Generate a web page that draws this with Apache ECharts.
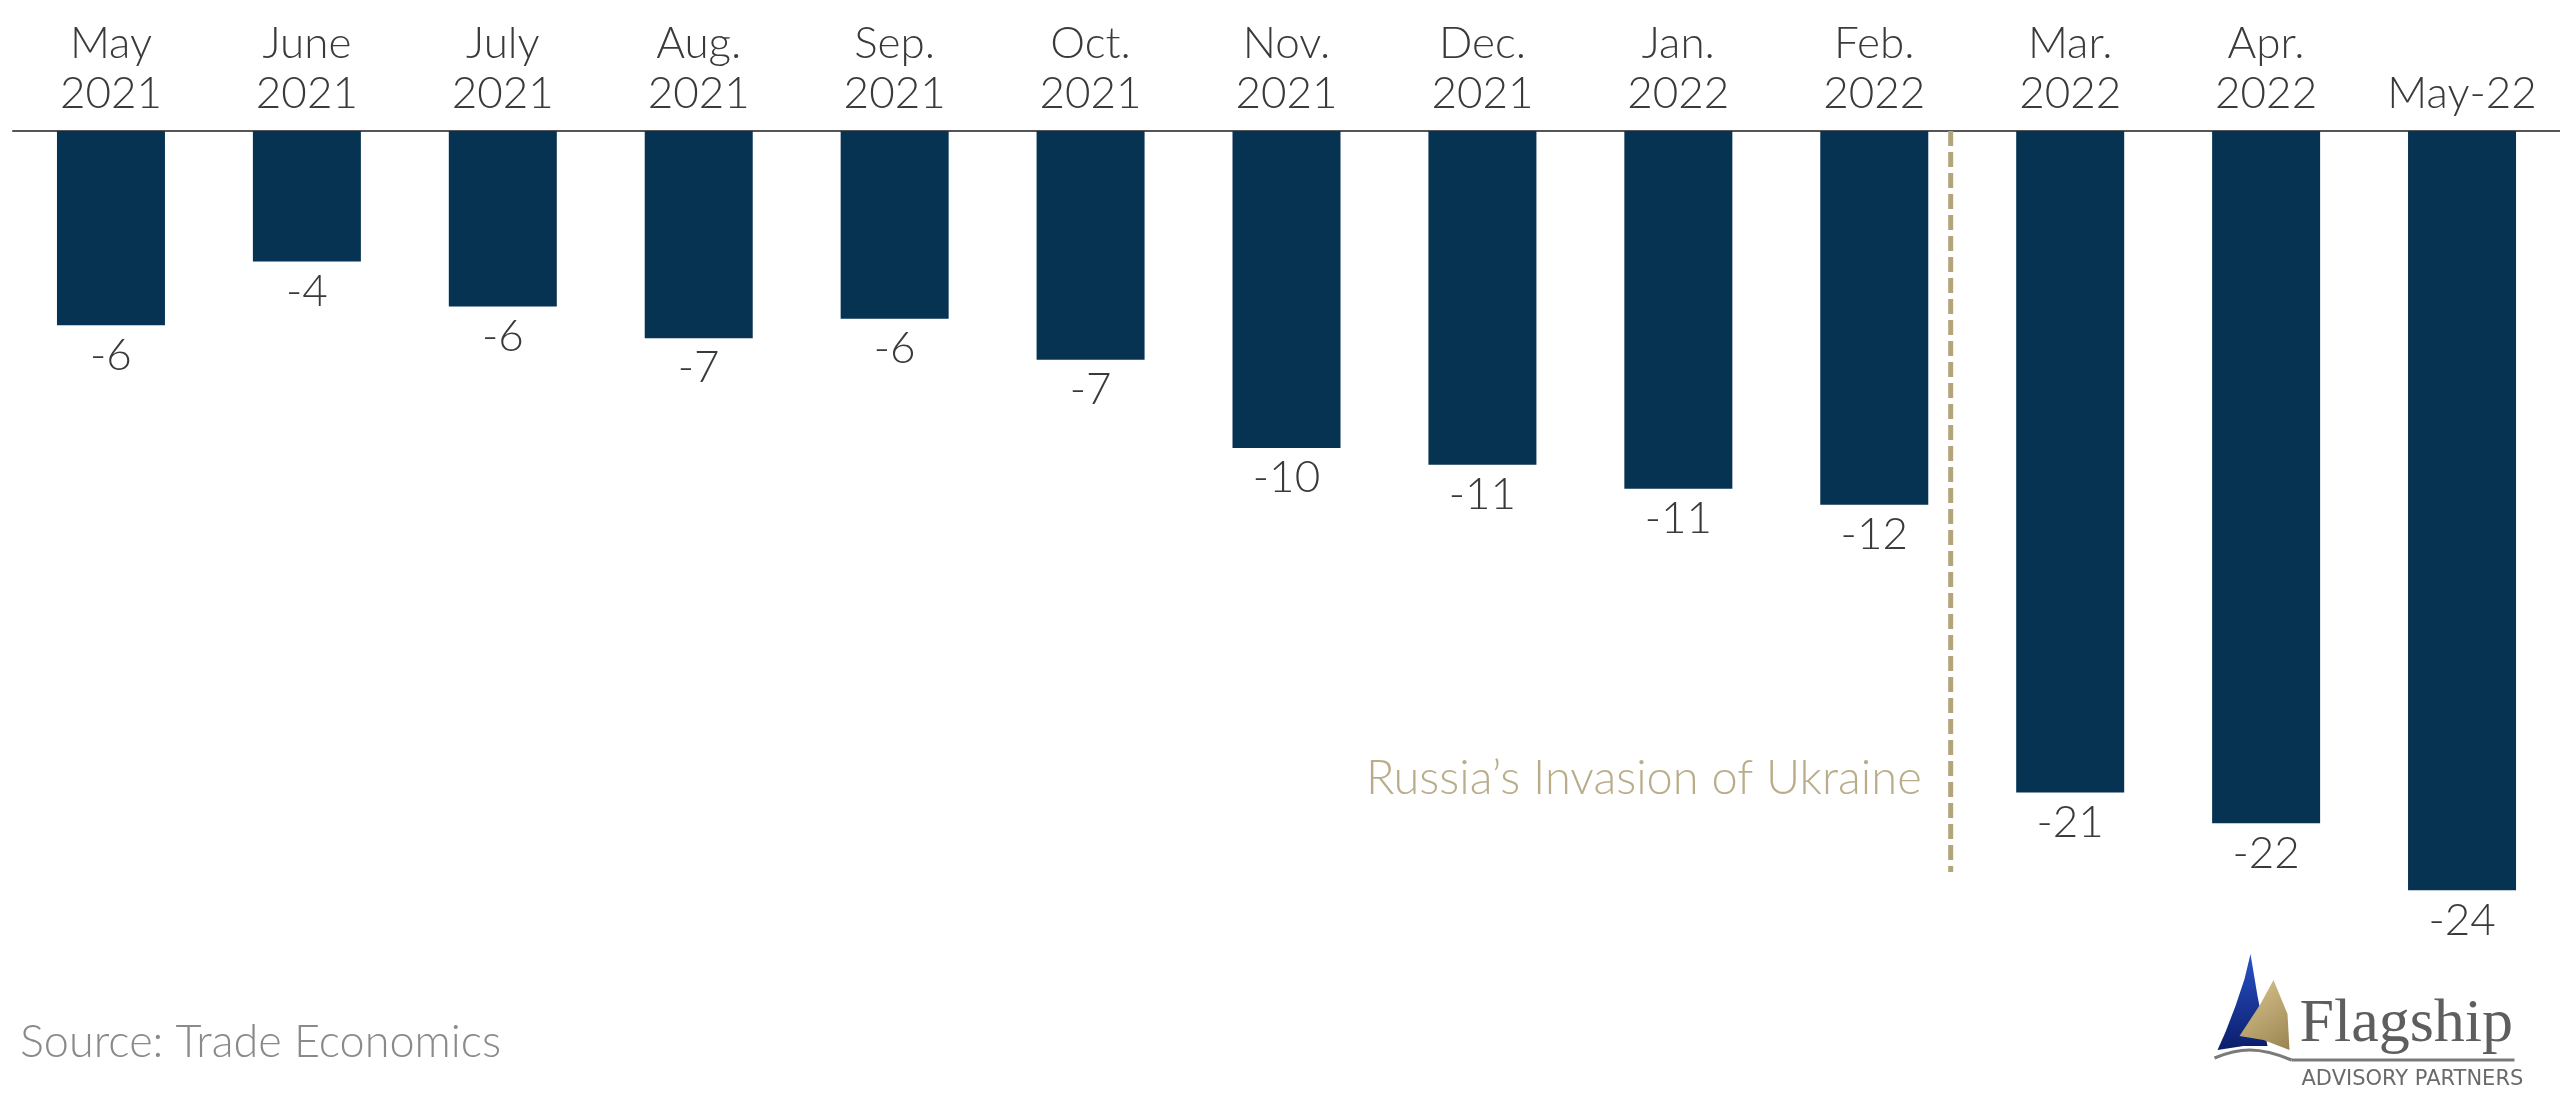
<!DOCTYPE html>
<html>
<head>
<meta charset="utf-8">
<script src="https://cdn.jsdelivr.net/npm/echarts@6/dist/echarts.min.js"></script>
<style>
html,body{margin:0;padding:0;background:#fff;}
#chart{width:2560px;height:1100px;}
</style>
</head>
<body>
<div id="chart"></div>
<script>
// Data
var categories = ["May\n2021","June\n2021","July\n2021","Aug.\n2021","Sep.\n2021","Oct.\n2021","Nov.\n2021","Dec.\n2021","Jan.\n2022","Feb.\n2022","Mar.\n2022","Apr.\n2022","May-22"];
var balanceValues = [-6.15,-4.13,-5.55,-6.56,-5.94,-7.24,-10.03,-10.56,-11.32,-11.83,-20.93,-21.91,-24.03];
var invasionPosition = 9.39;          // between Feb. 2022 and Mar. 2022
var invasionLineSpan = [0, -23.45];
var invasionLabelValue = -20.5;
var invasionLabel = "Russia\u2019s Invasion of Ukraine";
var sourceText = "Source: Trade Economics";

var chart = echarts.init(document.getElementById('chart'), null, {renderer:'canvas'});
var FONT = 'Lato, "Open Sans", sans-serif';

var option = {
  backgroundColor:'#ffffff',
  animation:false,
  grid:{left:13,right:0,top:131,bottom:21,containLabel:false},
  xAxis:[{
    type:'category',
    position:'top',
    data:categories,
    axisLine:{show:true,onZero:false,lineStyle:{color:'#555555',width:2}},
    axisTick:{show:false},
    axisLabel:{interval:0,margin:12,fontSize:44,lineHeight:50,color:'#3a3a3a',fontFamily:FONT,fontWeight:300},
    splitLine:{show:false}
  },{
    type:'value',
    min:-0.5,max:categories.length-0.5,
    show:false
  }],
  yAxis:{type:'value',min:-30,max:0,show:false},
  series:[{
    type:'bar',
    xAxisIndex:0,
    data:balanceValues,
    barWidth:108,
    itemStyle:{color:'#063352'},
    label:{show:true,position:'bottom',distance:8,fontSize:44,color:'#3a3a3a',fontFamily:FONT,fontWeight:300,
      formatter:function(p){return String(Math.round(p.value));}}
  },{
    type:'line',
    xAxisIndex:1,
    data:[[invasionPosition,invasionLineSpan[0]],[invasionPosition,invasionLineSpan[1]]],
    symbol:'none',
    lineStyle:{color:'#b3a47a',width:5,type:[15,6]},
    z:5
  },{
    type:'scatter',
    xAxisIndex:1,
    data:[[invasionPosition,invasionLabelValue]],
    symbolSize:0,
    label:{show:true,position:'left',distance:29,formatter:invasionLabel,fontSize:47,color:'#a8996b',fontFamily:FONT,fontWeight:300}
  }],
  graphic:[
    {type:'text',left:20,top:1020,style:{text:sourceText,fontSize:45,fill:'#8a8a8a',fontFamily:FONT,fontWeight:300}},
    // logo
    {type:'group',left:2212,top:954,children:[
      {type:'polygon',shape:{points:[[37,0],[31,25],[22,52],[12,78],[4,96],[30,92],[54,92],[50,72],[44,42]]},
        style:{fill:{type:'linear',x:0,y:0,x2:0,y2:1,colorStops:[{offset:0,color:'#2a52c8'},{offset:1,color:'#0a1d6a'}]}}},
      {type:'polygon',shape:{points:[[60,26],[47,50],[26,82],[50,86],[76,96],[74,60]]},
        style:{fill:{type:'linear',x:0,y:0,x2:1,y2:1,colorStops:[{offset:0,color:'#dcc893'},{offset:1,color:'#9a834e'}]}}},
      {type:'bezierCurve',shape:{x1:1,y1:104,cpx1:25,cpy1:94,cpx2:45,cpy2:92,x2:78,y2:106},style:{fill:'none',stroke:'#7a7a7a',lineWidth:3}},
      {type:'line',shape:{x1:78,y1:106,x2:301,y2:106},style:{stroke:'#7a7a7a',lineWidth:3}},
      {type:'text',x:86,y:40,style:{text:'Flagship',fontSize:62,fill:'#5e5e5e',fontFamily:'"Liberation Serif","DejaVu Serif",serif'}},
      {type:'text',x:88,y:115,style:{text:'ADVISORY PARTNERS',fontSize:21,fill:'#6a6a6a',fontFamily:'"DejaVu Sans",sans-serif'}}
    ]}
  ]
};
chart.setOption(option);
</script>
</body>
</html>
